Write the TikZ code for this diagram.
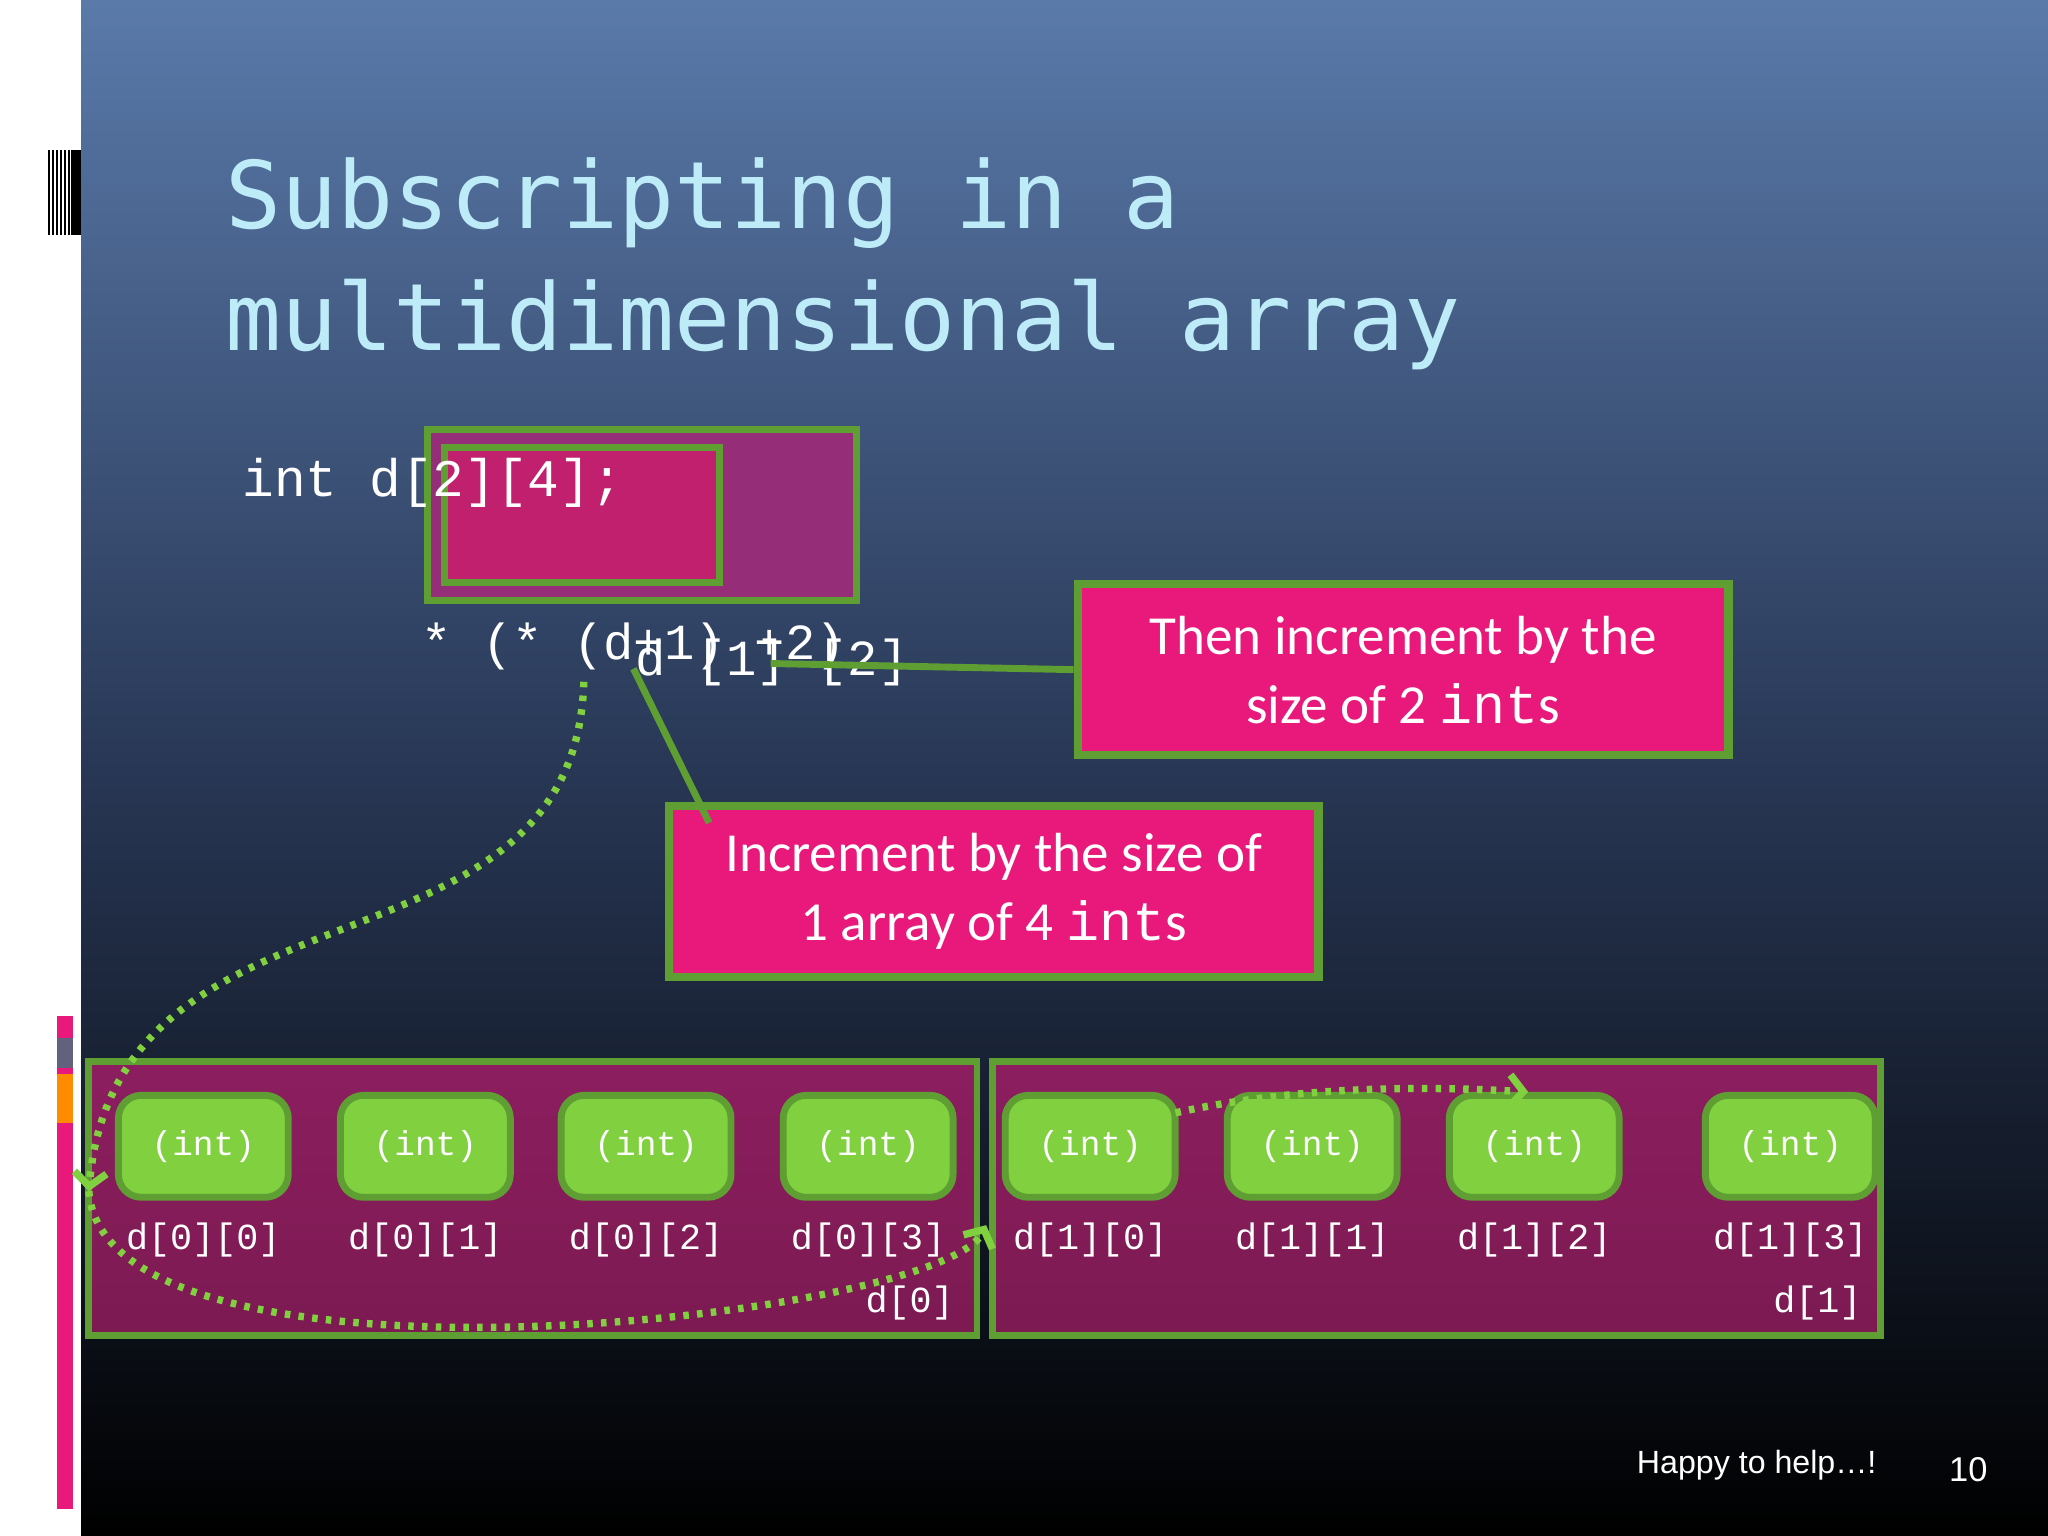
\documentclass[tikz,border=0pt]{standalone}
\usepackage{fontspec}
\setmainfont{Carlito}
\newfontfamily\titlef{DejaVu Sans Mono}
\newfontfamily\codef{Liberation Mono}
\newfontfamily\sansf{Liberation Sans}
\usetikzlibrary{arrows.meta}
\definecolor{gborder}{HTML}{5E9E32}
\definecolor{gcell}{HTML}{80D040}
\definecolor{hot}{HTML}{E8197A}
\definecolor{plum}{HTML}{7C1A52}
\definecolor{ttl}{HTML}{BDEBF7}
\tikzset{
 pinkbox/.style={draw=gborder,line width=1.8pt,fill=hot},
 cell/.style={draw=gborder,line width=1.5pt,fill=gcell,rounded corners=5pt,minimum width=1.3cm,minimum height=0.78cm,font=\codef\fontsize{7.5}{9}\selectfont,text=white},
 lab/.style={font=\codef\fontsize{8}{10}\selectfont,text=white},
 dots/.style={gcell,line width=1.6pt,dash pattern=on 1.2pt off 1.8pt},
}
\begin{document}
\begin{tikzpicture}[x=0.01cm,y=-0.01cm]
\useasboundingbox (0,0) rectangle (1568,1176);
\shade[top color={rgb,255:red,90;green,122;blue,170},bottom color=black,middle color={rgb,255:red,40;green,55;blue,85}] (62,0) rectangle (1568,1176);
\fill[white] (0,0) rectangle (62,1176);
\foreach \x in {37,40,43,46,49,52} \fill[black] (\x,115) rectangle ++(1.5,65);
\fill[black] (54,115) rectangle (62,180);
\fill[hot] (44,778) rectangle (56,1155);
\fill[gray!60!blue!40!black!70] (44,795) rectangle (56,818);
\fill[orange!90!yellow] (44,822) rectangle (56,860);
\node[anchor=base west,text=ttl,font=\titlef\fontsize{20.3}{25}\selectfont,inner sep=0] (t1) at (172,175) {Subscripting in a};
\node[anchor=base west,text=ttl,font=\titlef\fontsize{20.3}{25}\selectfont,inner sep=0] (t2) at (172,268) {multidimensional array};
\node[draw=gborder,line width=1.5pt,fill={rgb,255:red,150;green,45;blue,120},minimum width=3.28cm,minimum height=1.31cm,anchor=north west,inner sep=0] (r1) at (325,326) {};
\node[draw=gborder,line width=1.5pt,fill={rgb,255:red,192;green,32;blue,110},minimum width=2.1cm,minimum height=1.03cm,anchor=north west,inner sep=0] (r2) at (338,340) {};
\node[anchor=base west,text=white,font=\codef\fontsize{11.5}{14}\selectfont,inner sep=0] (decl) at (185,380) {int d[2][4];};
\node[anchor=base west,text=white,font=\codef\fontsize{11}{14}\selectfont,inner sep=0] (ex1) at (322,505) {* (* (d+1) +2)};
\node[anchor=base west,text=white,font=\codef\fontsize{11}{14}\selectfont,inner sep=0] (ex2) at (486,517) {d [1]  [2]};
\node[pinkbox,minimum width=4.98cm,minimum height=1.31cm,anchor=north west,inner sep=0] (b1) at (822,444) {};
\node[text=white,align=center,font=\fontsize{12}{15}\selectfont] (b1t) at (b1.center) {Then increment by the\\size of 2 {\codef int}s};
\node[pinkbox,minimum width=4.97cm,minimum height=1.31cm,anchor=north west,inner sep=0] (b2) at (509,614) {};
\node[text=white,align=center,font=\fontsize{12}{15}\selectfont] (b2t) at (b2.center) {Increment by the size of\\1 array of 4 {\codef int}s};
\coordinate (p1) at (590,508);
\coordinate (p2) at (485,512);
\draw[gborder,line width=1.5pt] (p1) -- (b1.west);
\draw[gborder,line width=1.5pt] (p2) -- (543,630);
\node[draw=gborder,line width=1.5pt,top color={rgb,255:red,140;green,30;blue,95},bottom color=plum,minimum width=6.8cm,minimum height=2.1cm,anchor=north west,inner sep=0] (a0) at (65,810) {};
\node[draw=gborder,line width=1.5pt,top color={rgb,255:red,140;green,30;blue,95},bottom color=plum,minimum width=6.8cm,minimum height=2.1cm,anchor=north west,inner sep=0] (a1) at (757,810) {};
\foreach \x/\n/\l in {88/c00/{d[0][0]},258/c01/{d[0][1]},427/c02/{d[0][2]},597/c03/{d[0][3]},767/c10/{d[1][0]},937/c11/{d[1][1]},1107/c12/{d[1][2]},1303/c13/{d[1][3]}}{
 \node[cell,anchor=north west] (\n) at (\x,836) {(int)};
 \node[lab] (l\n) at ([yshift=-0.3cm]\n.south) {\l};
}
\node[lab,anchor=south east] (d0) at ([xshift=-0.08cm,yshift=0.02cm]a0.south east) {d[0]};
\node[lab,anchor=south east] (d1) at ([xshift=-0.05cm,yshift=0.02cm]a1.south east) {d[1]};
\coordinate (s) at (447,522);
\coordinate (m) at (68,912);
\draw[dots,-{Straight Barb[length=3pt,width=7pt]}] (s) .. controls (440,760) and (90,660) .. (m);
\draw[dots,-{Straight Barb[length=3pt,width=7pt]}] (m) .. controls (80,1080) and (720,1010) .. (755,938);
\draw[dots,-{Straight Barb[length=3pt,width=7pt]}] (900,852) .. controls (1000,830) and (1100,832) .. (1170,836);
\node[text=white,font=\sansf\fontsize{7}{8}\selectfont] (happy) at (1345,1122) {Happy to help\ldots!};
\node[text=white,font=\sansf\fontsize{7.5}{8}\selectfont] (pg) at (1507,1125) {10};
\end{tikzpicture}
\end{document}
